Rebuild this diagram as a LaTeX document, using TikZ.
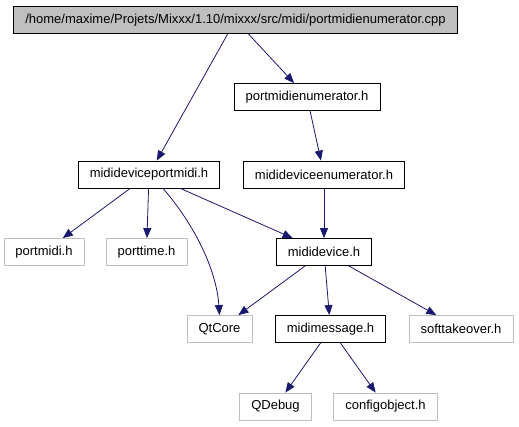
\documentclass[tikz,border=0pt]{standalone}
\usepackage{fontspec}
\setmainfont{Liberation Sans}
\usetikzlibrary{arrows.meta}
\definecolor{edgeblue}{HTML}{191970}
\definecolor{missgray}{HTML}{BFBFBF}
\begin{document}
\begin{tikzpicture}[
      x = 1pt, y = -1pt,
      file/.style = {
        draw, line width=0.8pt, minimum height=27pt,
        inner xsep=11.5pt, inner ysep=0pt,
        font=\fontsize{13}{15}\selectfont
      }, mainfile/.style = {
        file, fill=missgray
      }, extfile/.style = {
        file, draw=missgray
      }, dep/.style = {
        draw=edgeblue, line width=0.8pt,
        -{Triangle[length=10pt,width=8pt]}
      }
    ]
      \useasboundingbox (0,0) rectangle (519,427);
      \node[mainfile] (cpp)   at (235.5,20)  {/home/maxime/Projets/Mixxx/1.10/mixxx/src/midi/portmidienumerator.cpp};
      \node[file]     (pmenum) at (307,97)    {portmidienumerator.h};
      \node[file]     (mdpm)   at (149,174.5) {mididevice\-portmidi.h};
      \node[file]     (mdenum) at (324,174.5) {midideviceenumerator.h};
      \node[extfile]  (pm)     at (44,252)    {portmidi.h};
      \node[extfile]  (pt)     at (146.5,252) {porttime.h};
      \node[file]     (md)     at (324,252)   {mididevice.h};
      \node[extfile]  (qtcore) at (219.5,329) {QtCore};
      \node[file]     (msg)    at (330.5,329) {midimessage.h};
      \node[extfile]  (soft)   at (461,329)   {softtakeover.h};
      \node[extfile]  (qdebug) at (275.5,406.5) {QDebug};
      \node[extfile]  (cfg)    at (385.5,406.5) {configobject.h};

      \draw[dep] (cpp) -- (mdpm);
      \draw[dep] (cpp) -- (pmenum);
      \draw[dep] (pmenum) -- (mdenum);
      \draw[dep] (mdpm) -- (pm);
      \draw[dep] (mdpm) -- (pt);
      \draw[dep] ([xshift=14pt]mdpm.south) .. controls +(32,37) and +(-3,-45) .. (qtcore.north);
      \draw[dep] (mdpm) -- (md);
      \draw[dep] (mdenum) -- (md);
      \draw[dep] (md) -- (qtcore);
      \draw[dep] (md) -- (msg);
      \draw[dep] (md) -- (soft);
      \draw[dep] (msg) -- (qdebug);
      \draw[dep] (msg) -- (cfg);
    \end{tikzpicture}
\end{document}
